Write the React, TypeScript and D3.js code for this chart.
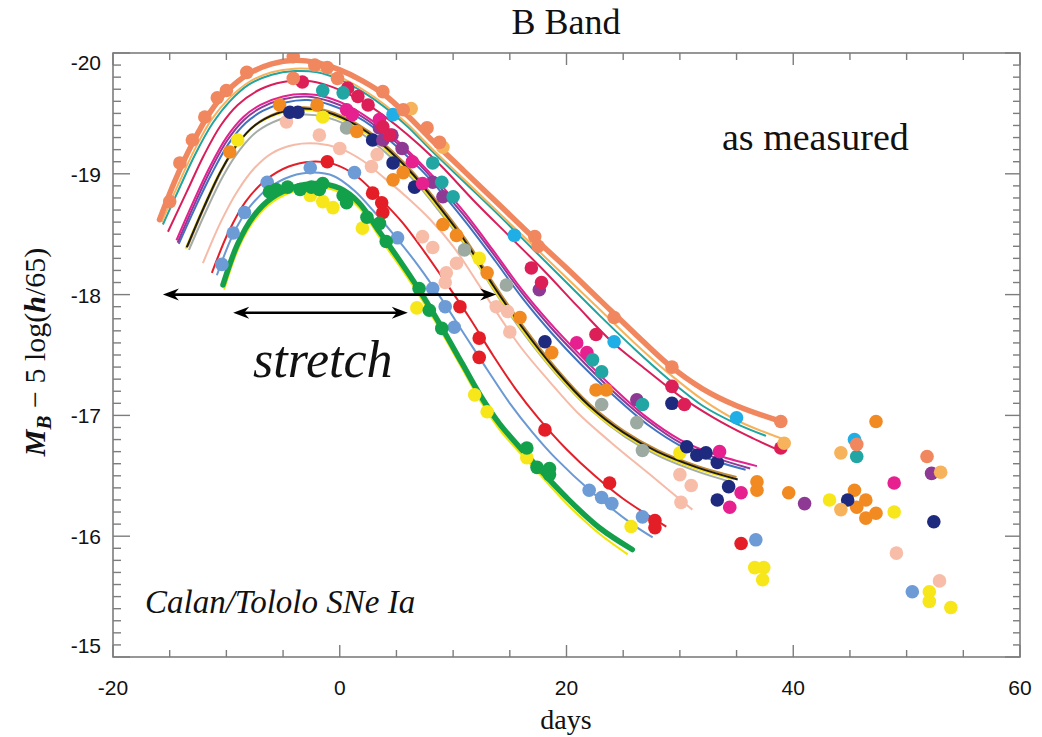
import React from "react";
import * as d3 from "d3";

const W = 1042;
const H = 737;
const X_DOMAIN: [number, number] = [-20, 60];
const Y_DOMAIN: [number, number] = [-20, -15];
const X_TICK_LABELS = [-20, 0, 20, 40, 60];
const Y_TICK_LABELS = [-20, -19, -18, -17, -16, -15];

type P = [number, number];

// ---------- fitted template curves (day, magnitude) ----------
const salmonCurve: P[] = [[-15.9,-18.62],[-14.5,-18.95],[-13,-19.25],[-11.5,-19.5],[-10,-19.68],[-8,-19.83],[-6,-19.91],[-4,-19.94],[-2,-19.92],[0,-19.86],[2,-19.77],[4,-19.65],[6,-19.48],[8,-19.29],[11,-19.02],[14,-18.75],[17,-18.48],[20,-18.22],[23,-17.95],[26,-17.68],[29,-17.42],[32,-17.22],[35,-17.08],[38.9,-16.95]];
const lightOrangeCurve: P[] = [[-15.7,-18.6],[-14.3,-18.9],[-12.8,-19.2],[-11.3,-19.45],[-9.8,-19.62],[-8,-19.76],[-6,-19.84],[-4,-19.87],[-2,-19.86],[0,-19.8],[2,-19.7],[4,-19.57],[6,-19.41],[8,-19.22],[11,-18.95],[14,-18.68],[17,-18.41],[20,-18.14],[23,-17.87],[26,-17.6],[29,-17.35],[32,-17.13],[35,-16.96],[39.2,-16.8]];
const tealCurve: P[] = [[-15.6,-18.58],[-14.2,-18.87],[-12.7,-19.17],[-11.2,-19.42],[-9.7,-19.6],[-8,-19.74],[-6,-19.82],[-4,-19.85],[-2,-19.84],[0,-19.78],[2,-19.68],[4,-19.55],[6,-19.39],[8,-19.2],[11,-18.93],[14,-18.66],[17,-18.38],[20,-18.1],[23,-17.82],[26,-17.55],[29,-17.3],[32,-17.08],[35,-16.93],[37.6,-16.83]];
const crimsonCurve: P[] = [[-15.15,-18.52],[-13.5,-18.85],[-12,-19.15],[-10.5,-19.4],[-9,-19.57],[-7,-19.7],[-5,-19.76],[-3,-19.77],[-1,-19.73],[1,-19.65],[3,-19.54],[5,-19.4],[7,-19.24],[9,-19.06],[12,-18.76],[15,-18.48],[18,-18.2],[21,-17.9],[24,-17.61],[27,-17.38],[30,-17.16],[33,-16.98],[36,-16.83],[39,-16.7]];
const magentaCurve: P[] = [[-14.4,-18.45],[-13,-18.75],[-11.5,-19.05],[-10,-19.3],[-8.5,-19.47],[-7,-19.57],[-5,-19.64],[-3,-19.66],[-1,-19.63],[1,-19.55],[3,-19.43],[5,-19.28],[7,-19.1],[9,-18.9],[11,-18.68],[13.5,-18.37],[16,-18.05],[18.5,-17.77],[21,-17.52],[24,-17.24],[27,-16.99],[30,-16.8],[33,-16.68],[36.8,-16.58]];
const purpleCurve: P[] = [[-14.3,-18.43],[-12.9,-18.73],[-11.4,-19.03],[-9.9,-19.28],[-8.4,-19.45],[-6.9,-19.55],[-4.9,-19.62],[-2.9,-19.64],[-0.9,-19.6],[1.1,-19.52],[3.1,-19.4],[5.1,-19.25],[7.1,-19.07],[9.1,-18.86],[11.1,-18.64],[13.6,-18.33],[16.1,-18.01],[18.6,-17.73],[21.1,-17.48],[24.1,-17.2],[27.1,-16.96],[30.1,-16.77],[33.1,-16.65],[36.2,-16.56]];
const blueCurve: P[] = [[-14.2,-18.42],[-12.8,-18.71],[-11.3,-19.0],[-9.8,-19.25],[-8.3,-19.42],[-6.8,-19.52],[-4.8,-19.59],[-2.8,-19.61],[-0.8,-19.57],[1.2,-19.49],[3.2,-19.37],[5.2,-19.21],[7.2,-19.03],[9.2,-18.82],[11.2,-18.59],[13.7,-18.28],[16.2,-17.96],[18.7,-17.68],[21.2,-17.43],[24.2,-17.16],[27.2,-16.92],[30.2,-16.74],[33.2,-16.62],[35.8,-16.55]];
const blackCurve: P[] = [[-13.5,-18.39],[-12,-18.72],[-10.5,-19.02],[-9,-19.25],[-7.5,-19.4],[-5.5,-19.5],[-3.5,-19.54],[-1.5,-19.52],[0.5,-19.45],[2.5,-19.34],[4.5,-19.18],[6.5,-18.99],[8.5,-18.76],[11,-18.45],[13.5,-18.08],[16,-17.74],[19,-17.38],[22,-17.08],[25,-16.86],[28,-16.7],[31.5,-16.57],[35.1,-16.47]];
const yellowKCurve: P[] = [[-13.6,-18.38],[-12.1,-18.71],[-10.6,-19.01],[-9.1,-19.24],[-7.6,-19.39],[-5.6,-19.49],[-3.6,-19.53],[-1.6,-19.51],[0.4,-19.44],[2.4,-19.33],[4.4,-19.17],[6.4,-18.98],[8.4,-18.75],[10.9,-18.44],[13.4,-18.07],[15.9,-17.73],[18.9,-17.37],[21.9,-17.07],[24.9,-16.85],[27.9,-16.69],[31.4,-16.56],[34.8,-16.47]];
const brownCurve: P[] = [[-13.4,-18.4],[-11.9,-18.73],[-10.4,-19.03],[-8.9,-19.26],[-7.4,-19.41],[-5.4,-19.51],[-3.4,-19.55],[-1.4,-19.53],[0.6,-19.46],[2.6,-19.35],[4.6,-19.19],[6.6,-19.0],[8.6,-18.77],[11.1,-18.46],[13.6,-18.09],[16.1,-17.75],[19.1,-17.39],[22.1,-17.09],[25.1,-16.87],[28.1,-16.71],[31.6,-16.58],[35.0,-16.49]];
const grayCurve: P[] = [[-13.3,-18.37],[-11.8,-18.69],[-10.3,-18.98],[-8.8,-19.2],[-7.3,-19.35],[-5.3,-19.45],[-3.3,-19.49],[-1.3,-19.47],[0.7,-19.4],[2.7,-19.28],[4.7,-19.12],[6.7,-18.93],[8.7,-18.7],[11.2,-18.39],[13.7,-18.02],[16.2,-17.68],[19.2,-17.33],[22.2,-17.04],[25.2,-16.82],[28.2,-16.66],[31.7,-16.53],[34.5,-16.45]];
const pinkCurve: P[] = [[-12.07,-18.26],[-10.5,-18.6],[-9,-18.86],[-7.5,-19.05],[-6,-19.17],[-4,-19.24],[-2,-19.25],[0,-19.21],[2,-19.11],[4,-18.96],[6,-18.8],[8,-18.62],[10,-18.4],[12,-18.12],[14,-17.83],[16,-17.56],[18.5,-17.28],[21,-17.02],[24,-16.77],[27.5,-16.5],[31.1,-16.22]];
const redCurve: P[] = [[-11.28,-18.18],[-9.8,-18.52],[-8.3,-18.77],[-6.5,-18.95],[-4.5,-19.06],[-2.5,-19.1],[-0.5,-19.08],[1.5,-18.98],[3.5,-18.8],[5.5,-18.6],[7.5,-18.35],[9.5,-18.08],[11.5,-17.8],[13.5,-17.5],[15.5,-17.22],[17.5,-16.98],[20,-16.72],[22.5,-16.5],[25,-16.31],[28.8,-16.08]];
const lightBlueCurve: P[] = [[-10.84,-18.16],[-9.4,-18.5],[-8,-18.72],[-6.3,-18.88],[-4.3,-18.98],[-2.3,-19.01],[-0.5,-18.98],[1.3,-18.86],[3,-18.69],[5,-18.47],[7,-18.23],[9,-17.96],[11,-17.67],[13,-17.38],[15,-17.1],[17,-16.86],[19.1,-16.64],[22.3,-16.36],[25.8,-16.1],[27.6,-15.99]];
const greenCurve: P[] = [[-10.3,-18.08],[-9,-18.42],[-7.6,-18.65],[-6,-18.8],[-4,-18.89],[-2,-18.92],[0,-18.88],[1.7,-18.76],[3.5,-18.52],[5.3,-18.28],[7,-18.04],[8.8,-17.76],[10.8,-17.43],[12.5,-17.15],[14.1,-16.93],[16.7,-16.65],[20,-16.32],[22.9,-16.07],[25.8,-15.89]];
const yellowCurve: P[] = [[-10.2,-18.04],[-8.9,-18.39],[-7.5,-18.62],[-5.9,-18.77],[-3.9,-18.86],[-1.9,-18.89],[0.1,-18.84],[1.8,-18.71],[3.6,-18.46],[5.4,-18.22],[7.1,-17.98],[8.9,-17.7],[10.9,-17.37],[12.6,-17.09],[14.2,-16.87],[16.8,-16.6],[20,-16.27],[22.9,-16.02],[25.4,-15.85]];

// ---------- measured points (day, magnitude) ----------
const salmonDots: P[] = [[-15.0,-18.77],[-14.1,-19.09],[-13.0,-19.28],[-11.9,-19.47],[-10.8,-19.63],[-10.0,-19.69],[-8.2,-19.84],[-4.1,-19.97],[-4.1,-19.79],[-2.2,-19.9],[-1.1,-19.88],[-0.2,-19.79],[3.8,-19.68],[5.6,-19.53],[7.7,-19.38],[8.8,-19.26],[17.2,-18.48],[17.5,-18.4],[24.2,-17.81],[29.3,-17.4],[38.9,-16.95],[45.6,-16.76],[51.8,-16.66]];
const lightOrangeDots: P[] = [[6.3,-19.54],[9.1,-19.22],[39.2,-16.77],[44.2,-16.69],[44.2,-16.22],[53.0,-16.53]];
const tealDots: P[] = [[-1.5,-19.69],[0.3,-19.67],[8.2,-19.09],[9.0,-18.93],[10.0,-18.81],[22.3,-17.46],[23.1,-17.36],[26.7,-17.09],[45.6,-16.66]];
const cyanDots: P[] = [[4.7,-19.49],[15.4,-18.49],[24.2,-17.61],[35.0,-16.98],[45.4,-16.8]];
const crimsonDots: P[] = [[-3.3,-19.76],[0.7,-19.71],[1.6,-19.64],[2.5,-19.57],[3.8,-19.39],[4.4,-19.32],[16.9,-18.22],[17.8,-18.1],[22.6,-17.67],[29.3,-17.24],[30.4,-17.09],[38.9,-16.73]];
const magentaDots: P[] = [[0.6,-19.53],[1.1,-19.49],[3.5,-19.45],[6.4,-19.1],[7.3,-18.92],[20.9,-17.6],[21.8,-17.52],[33.5,-16.7],[35.4,-16.36],[34.4,-16.24],[48.9,-16.44]];
const purpleDots: P[] = [[3.5,-19.38],[3.8,-19.28],[4.6,-19.32],[5.5,-19.21],[8.2,-18.93],[9.1,-18.81],[17.6,-18.04],[26.2,-17.13],[41.0,-16.27],[52.2,-16.52]];
const navyDots: P[] = [[-4.4,-19.51],[-3.7,-19.51],[2.9,-19.28],[4.7,-19.09],[6.6,-18.89],[18.1,-17.61],[29.3,-17.1],[30.6,-16.74],[31.5,-16.67],[32.3,-16.69],[33.3,-16.61],[34.3,-16.41],[33.3,-16.3],[44.8,-16.3],[52.4,-16.12]];
const orangeDots: P[] = [[-9.7,-19.18],[-5.3,-19.57],[-2.0,-19.57],[1.5,-19.35],[4.7,-18.95],[5.6,-19.01],[9.1,-18.58],[10.3,-18.49],[13.0,-18.18],[15.9,-17.81],[18.7,-17.52],[22.6,-17.21],[23.5,-17.21],[47.3,-16.95],[36.8,-16.45],[36.8,-16.38],[39.6,-16.36],[45.4,-16.38],[46.4,-16.3],[45.6,-16.24],[46.4,-16.15],[47.3,-16.19]];
const yellowDots: P[] = [[-9.0,-19.28],[-1.5,-19.47],[-2.6,-18.82],[-1.5,-18.77],[-0.6,-18.72],[2.0,-18.55],[6.8,-17.89],[12.3,-18.3],[11.9,-17.17],[13.0,-17.03],[16.5,-16.65],[25.7,-16.08],[30.0,-16.69],[43.2,-16.3],[48.9,-16.2],[36.6,-15.74],[37.4,-15.74],[37.3,-15.64],[52.0,-15.54],[52.0,-15.46],[53.9,-15.41]];
const grayDots: P[] = [[0.6,-19.38],[11.0,-18.37],[14.7,-18.08],[23.1,-17.09],[26.2,-16.94],[26.7,-16.71]];
const pinkDots: P[] = [[-4.7,-19.43],[-1.8,-19.32],[0.0,-19.21],[3.3,-19.16],[2.8,-19.06],[7.3,-18.48],[8.2,-18.39],[9.4,-18.18],[9.3,-18.1],[10.3,-18.26],[13.8,-17.9],[14.8,-17.86],[15.0,-17.69],[30.0,-16.51],[31.0,-16.42],[30.1,-16.28],[49.1,-15.86],[52.9,-15.63]];
const redDots: P[] = [[-1.1,-19.1],[2.9,-18.84],[3.7,-18.76],[3.8,-18.68],[10.6,-17.9],[12.3,-17.64],[12.3,-17.48],[18.1,-16.88],[23.8,-16.44],[27.8,-16.13],[27.8,-16.07],[35.4,-15.94]];
const lightBlueDots: P[] = [[-6.4,-18.93],[-8.4,-18.68],[-9.4,-18.51],[-10.4,-18.25],[-2.6,-19.05],[1.3,-19.01],[5.1,-18.47],[8.2,-18.05],[9.3,-17.9],[10.1,-17.73],[22.0,-16.38],[23.1,-16.32],[24.0,-16.27],[26.7,-16.16],[36.7,-15.97],[50.5,-15.54]];
const greenDots: P[] = [[-6.2,-18.85],[-5.6,-18.87],[-4.6,-18.89],[-3.5,-18.87],[-2.5,-18.89],[-1.5,-18.92],[-1.8,-18.87],[0.3,-18.82],[0.6,-18.76],[2.4,-18.64],[3.5,-18.59],[4.1,-18.44],[7.0,-18.05],[7.9,-17.87],[9.0,-17.72],[16.5,-16.73],[17.4,-16.57],[18.5,-16.56],[18.5,-16.51]];

// stretch arrows (day range at a magnitude)
const longArrow = { from: -15.6, to: 13.8, mag: -18.0 };
const shortArrow = { from: -9.4, to: 6.0, mag: -17.85 };

const THIN = [
  { pts: yellowCurve, color: "#F2E600" },
  { pts: lightBlueCurve, color: "#6A99D3" },
  { pts: redCurve, color: "#E3202A" },
  { pts: pinkCurve, color: "#F6BBA8" },
  { pts: grayCurve, color: "#A3ADA6" },
  { pts: brownCurve, color: "#C08A35" },
  { pts: yellowKCurve, color: "#F4E11E" },
  { pts: blackCurve, color: "#1A1A1A" },
  { pts: blueCurve, color: "#3F73BF" },
  { pts: purpleCurve, color: "#8E3A96" },
  { pts: magentaCurve, color: "#E3218F" },
  { pts: crimsonCurve, color: "#D81F5A" },
  { pts: tealCurve, color: "#20A5A0" },
  { pts: lightOrangeCurve, color: "#F7B35B" },
];
const THICK = [
  { pts: greenCurve, color: "#14A04A" },
  { pts: salmonCurve, color: "#F0875F" },
];
const DOTS = [
  { pts: pinkDots, color: "#F7BDA8" },
  { pts: grayDots, color: "#9DAAA2" },
  { pts: yellowDots, color: "#F7E619" },
  { pts: lightBlueDots, color: "#6C9BD5" },
  { pts: redDots, color: "#E41E26" },
  { pts: greenDots, color: "#13A04A" },
  { pts: orangeDots, color: "#F28A22" },
  { pts: navyDots, color: "#1E2A7E" },
  { pts: purpleDots, color: "#8E3994" },
  { pts: magentaDots, color: "#E6208F" },
  { pts: crimsonDots, color: "#DD1F58" },
  { pts: cyanDots, color: "#1FAEE6" },
  { pts: tealDots, color: "#22A6A4" },
  { pts: lightOrangeDots, color: "#F7B35B" },
  { pts: salmonDots, color: "#F0875F" },
];

const AXIS = "#7d7d7d";

export default function App() {
  const x = d3.scaleLinear().domain(X_DOMAIN).range([113, 1020]);
  const y = d3.scaleLinear().domain(Y_DOMAIN).range([53, 657]);
  const line = d3
    .line<P>()
    .x((d) => x(d[0]))
    .y((d) => y(d[1]))
    .curve(d3.curveCatmullRom.alpha(0.5));

  const [x0, x1] = x.range();
  const [y0, y1] = y.range();

  const xTicks = d3.range(X_DOMAIN[0], X_DOMAIN[1] + 0.001, 5);
  const yTicks = d3.range(0, 51).map((i) => Y_DOMAIN[0] + i * 0.1);

  const arrowHead = (px: number, py: number, dir: number) => {
    const L = 16, Wd = 6, notch = 11;
    return `M${px},${py} L${px - dir * L},${py - Wd} L${px - dir * notch},${py} L${px - dir * L},${py + Wd} Z`;
  };

  const arrows = [longArrow, shortArrow];

  return (
    <svg
      width={W}
      height={H}
      style={{ position: "absolute", left: 0, top: 0, background: "#fff" }}
      fontFamily="'Liberation Serif', 'Times New Roman', serif"
    >
      <defs>
        <clipPath id="plotClip">
          <rect x={x0} y={y0} width={x1 - x0} height={y1 - y0} />
        </clipPath>
      </defs>
      <rect x={0} y={0} width={W} height={H} fill="#fff" />

      <g clipPath="url(#plotClip)">
        {THIN.map((c, i) => (
          <path key={"t" + i} d={line(c.pts) || ""} fill="none" stroke={c.color} strokeWidth={2} />
        ))}
        {THICK.map((c, i) => (
          <path key={"k" + i} d={line(c.pts) || ""} fill="none" stroke={c.color} strokeWidth={5.5} strokeLinecap="round" />
        ))}
        {DOTS.map((s, i) =>
          s.pts.map((p, j) => (
            <circle key={i + "-" + j} cx={x(p[0])} cy={y(p[1])} r={6.8} fill={s.color} />
          ))
        )}
      </g>

      {/* frame */}
      <rect x={x0} y={y0} width={x1 - x0} height={y1 - y0} fill="none" stroke={AXIS} strokeWidth={1.6} />
      {xTicks.map((t) => {
        const major = t % 20 === 0;
        const px = x(t);
        return (
          <g key={"xt" + t}>
            <line x1={px} x2={px} y1={y1} y2={y1 - (major ? 12 : 7)} stroke={AXIS} strokeWidth={1.4} />
            <line x1={px} x2={px} y1={y0} y2={y0 + (major ? 12 : 7)} stroke={AXIS} strokeWidth={1.4} />
          </g>
        );
      })}
      {yTicks.map((t, i) => {
        const major = i % 10 === 0;
        const py = y(t);
        return (
          <g key={"yt" + i}>
            <line x1={x0} x2={x0 + (major ? 17 : 8)} y1={py} y2={py} stroke={AXIS} strokeWidth={1.4} />
            <line x1={x1} x2={x1 - (major ? 15 : 7)} y1={py} y2={py} stroke={AXIS} strokeWidth={1.4} />
          </g>
        );
      })}

      {/* tick labels */}
      {X_TICK_LABELS.map((t) => (
        <text key={"xl" + t} x={x(t)} y={695} textAnchor="middle" fontFamily="'Liberation Sans', Arial, sans-serif" fontSize={21} fill="#111">
          {t}
        </text>
      ))}
      {Y_TICK_LABELS.map((t, i) => {
        let py = y(t);
        if (i === 0) py += 9;
        if (i === Y_TICK_LABELS.length - 1) py -= 12;
        return (
          <text key={"yl" + t} x={101} y={py + 8} textAnchor="end" fontFamily="'Liberation Sans', Arial, sans-serif" fontSize={21} fill="#111">
            {t}
          </text>
        );
      })}

      {/* titles */}
      <text x={566} y={34} textAnchor="middle" fontSize={36} fill="#111">B Band</text>
      <text x={566} y={729} textAnchor="middle" fontSize={28} fill="#111">days</text>
      <text x={722} y={150} fontSize={38} fill="#111">as measured</text>
      <text x={145} y={613} fontSize={33} fontStyle="italic" fill="#111">Calan/Tololo SNe Ia</text>
      <text x={253} y={377} fontSize={52} fontStyle="italic" fill="#111">stretch</text>

      <g transform="translate(45,352) rotate(-90)">
        <text textAnchor="middle" fontSize={30} fill="#111">
          <tspan fontWeight="bold" fontStyle="italic">M</tspan>
          <tspan fontWeight="bold" fontStyle="italic" fontSize={21} dy={6}>B</tspan>
          <tspan dy={-6}>{" \u2212 5 log("}</tspan>
          <tspan fontWeight="bold" fontStyle="italic">h</tspan>
          <tspan>/65)</tspan>
        </text>
      </g>

      {/* stretch arrows */}
      {arrows.map((a, i) => {
        const xa = x(a.from);
        const xb = x(a.to);
        const py = y(a.mag);
        return (
          <g key={"ar" + i}>
            <line x1={xa + 8} x2={xb - 8} y1={py} y2={py} stroke="#000" strokeWidth={2.6} />
            <path d={arrowHead(xa, py, -1)} fill="#000" />
            <path d={arrowHead(xb, py, 1)} fill="#000" />
          </g>
        );
      })}
    </svg>
  );
}
